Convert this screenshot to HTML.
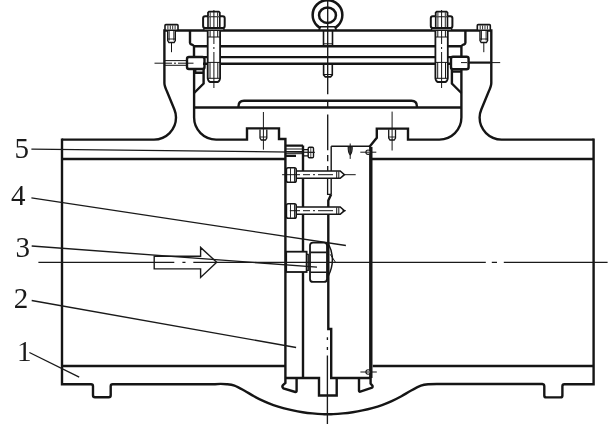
<!DOCTYPE html>
<html><head><meta charset="utf-8">
<style>
html,body{margin:0;padding:0;background:#fff;}
body{width:616px;height:428px;overflow:hidden;}
svg{display:block;}
text{font-family:"Liberation Serif",serif;font-size:29px;fill:#1a1a1a;}
.lbl{will-change:transform;}
</style></head>
<body>
<svg width="616" height="428" viewBox="0 0 616 428">
<g fill="none" stroke="#151515" stroke-width="2.4" stroke-linejoin="miter" stroke-linecap="butt">

<!-- ===== BODY ===== -->
<!-- left outer + bottom -->
<path d="M62,138.4 V384.3 H91 Q93,384.3 93,386.3 V395.2 Q93,397.2 95,397.2 H108.7 Q110.7,397.2 110.7,395.2 V386.3 Q110.7,384.3 112.7,384.3 H215 C216.9,384.0 223.4,383.9 226.7,384.2 C229.9,384.5 231.6,384.6 234.5,385.6 C237.4,386.7 240.9,388.7 244.2,390.5 C247.4,392.3 250.8,394.5 254.0,396.3 C257.2,398.1 260.5,399.7 263.7,401.2 C266.9,402.7 270.1,404.0 273.4,405.1 C276.6,406.2 279.9,407.2 283.2,408.1 C286.4,409.0 289.6,409.7 292.9,410.4 C296.1,411.1 299.4,411.7 302.7,412.2 C305.9,412.7 309.2,413.1 312.4,413.4 C315.6,413.7 319.6,414.0 322.1,414.1 C324.7,414.2 325.8,414.3 327.7,414.3 C329.6,414.3 330.7,414.2 333.3,414.1 C335.8,414.0 339.8,413.7 343.0,413.4 C346.2,413.1 349.4,412.7 352.7,412.2 C355.9,411.7 359.2,411.1 362.5,410.4 C365.8,409.7 368.9,409.0 372.2,408.1 C375.4,407.2 378.8,406.2 382.0,405.1 C385.2,404.0 388.5,402.7 391.7,401.2 C394.9,399.7 398.1,398.1 401.4,396.3 C404.6,394.5 407.9,392.3 411.2,390.5 C414.4,388.7 418.0,386.7 420.9,385.6 C423.8,384.6 425.4,384.5 428.7,384.2 C431.9,383.9 438.4,384.0 440.4,384.0 H542.3 Q544.3,384.3 544.3,386.3 V395.4 Q544.3,397.4 546.3,397.4 H560.4 Q562.4,397.4 562.4,395.4 V386.3 Q562.4,384.3 564.4,384.3 H593.6 V138.4"/>
<!-- body top left with fillet into bonnet wall -->
<path d="M62,139.6 H154 A22,22 0 0 0 176,117.5 Q176,113.5 174.4,109.5 L167,91.5 Q164.4,86 164.4,83 V30.5 H491.3 V83 Q491.3,86 488.7,91.5 L481.3,109.5 Q479.6,113.5 479.6,117.5 A22,22 0 0 0 501.6,139.6 H593.6"/>
<!-- inner body lines -->
<path d="M62,159 H285.4 M372,159 H593.5 M62,366 H285.4 M372.7,366 H593.5"/>

<!-- ===== BONNET INNER CAVITY ===== -->
<path d="M194.1,69 V117.6 A22,22 0 0 0 216.1,139.6 H247 V128.4 H279 V139 H285.4 V378"/>
<path d="M461.4,69 V117.6 A22,22 0 0 1 439.4,139.6 H408 V128.6 H376.8 V137.8 L369.3,146.9"/>
<!-- cover lines -->
<path d="M194,46.2 H461.4 M203,57.1 H451 M203,63.7 H451"/>
<!-- bonnet bottom line & plate -->
<path d="M194.3,107.5 H461"/>
<path d="M238.5,107.5 V106.3 Q238.5,100.8 244,100.8 H411.4 Q416.9,100.8 416.9,106.3 V107.5"/>

<!-- left flange inner step -->
<path d="M190,30.5 V42.7 Q190,44 191.5,44.5 L192.8,45 Q194,45.6 194,47 V57"/>
<path d="M465.4,30.5 V42.7 Q465.4,44 463.9,44.5 L462.6,45 Q461.4,45.6 461.4,47 V56.8"/>

<!-- left plug / pin nut -->
<rect x="187" y="57" width="17.5" height="12" rx="2"/>
<path d="M195.2,69 V72.7 H203.6 V69 M203.6,72.7 V83.5 L194.1,93" />
<rect x="451" y="56.8" width="17.6" height="12.4" rx="2"/>
<path d="M451.9,69.4 V83.5 L461.4,93 M451.9,71.6 H461.4"/>

<!-- ===== DISC / HINGE ===== -->
<path d="M303,145.6 V171 M303,178 V207 M303,214.4 V378"/>
<path d="M285.4,145.6 H303 M285.4,155.9 H296"/>
<path d="M285.4,378 H319 V395.5 H336.7 V378 M330,378 H370.7"/>
<!-- bottom tabs -->
<path d="M285.4,378 V383 L283,385 Q281.6,386.8 283.4,388.4 L295.3,392 Q296.6,392.2 296.6,391 V378"/>
<path d="M359,378 V390.8 Q359,392 360.3,391.6 L371.4,388 Q373.2,387.2 372.4,385.6 L370.6,383.5 V378"/>
<!-- disc arm & face -->
<path d="M331.2,146.3 V194.3" stroke-width="1.4"/>
<path d="M331.2,146.3 H369.3" stroke-width="1.4"/>
<path d="M331.2,194.3 L328.3,200.6 V329 H331.2 V378" />
<path d="M327.6,178.9 V194.3 H331.2" stroke-width="1.3"/>
<!-- thick right seat -->
<path d="M370.8,146.9 V378" stroke-width="3.4"/>


<!-- ===== BONNET DETAILS ===== -->
<defs>
<g id="bolt">
  <!-- shank -->
  <path d="M-6.2,30 V78.3 Q-5.6,81.6 -3.8,82 H3.8 Q5.6,81.6 6.2,78.3 V30 Z" fill="#fff" stroke-width="1.8"/>
  <path d="M-3.8,30.5 V37 M3.8,30.5 V37 M-6.2,37 H6.2 M-6.2,62.4 H6.2 M-3.9,62.4 V78.3 M3.9,62.4 V78.3 M-6.2,78.3 H6.2" stroke-width="1"/>
  <!-- washer -->
  <rect x="-10" y="28.1" width="20" height="2" fill="#fff" stroke-width="1.3"/>
  <!-- nut -->
  <rect x="-10.8" y="16.2" width="21.6" height="11.9" rx="2" fill="#fff" stroke-width="2"/>
  <path d="M-5.9,16.8 V27.6 M5.9,16.8 V27.6" stroke-width="1.6"/>
  <path d="M-3.7,17 V27.4 M3.7,17 V27.4" stroke-width="0.9"/>
  <!-- bolt end -->
  <path d="M-5.9,16.2 V12.6 L-4.9,11.6 H4.9 L5.9,12.6 V16.2" fill="#fff" stroke-width="1.8"/>
  <path d="M-3.7,12.2 V16 M3.7,12.2 V16" stroke-width="0.9"/>
  <path d="M0,10 V29 M0,31 V44 M0,47 V49 M0,52 V88" stroke-width="1"/>
</g>
<g id="screw">
  <path d="M-3.8,30.3 V40.5 L-2.6,42.5 H2.6 L3.8,40.5 V30.3" fill="#fff" stroke-width="1.4"/>
  <path d="M-2.3,30.5 V40.5 M2.3,30.5 V40.5 M-3.8,39 H3.8" stroke-width="0.9"/>
  <rect x="-6.5" y="24.6" width="13" height="5.6" rx="0.8" fill="#fff" stroke-width="1.6"/>
  <path d="M-3.6,25.5 V29.4 M-1.2,25.5 V29.4 M1.2,25.5 V29.4 M3.6,25.5 V29.4" stroke-width="0.9"/>
  <path d="M0,42 V52.2" stroke-width="1"/>
</g>
</defs>
<use href="#bolt" x="213.9"/>
<use href="#bolt" x="441.6"/>
<use href="#screw" x="171.5"/>
<use href="#screw" x="483.8"/>

<!-- eyebolt -->
<circle cx="327.5" cy="15" r="14.85" stroke-width="2.5"/>
<ellipse cx="327.5" cy="15.2" rx="8.45" ry="7.75" stroke-width="2.5" fill="#fff"/>
<path d="M319,30 L320.5,26.8 H334.8 L336.3,30 Z" fill="#fff" stroke-width="1.6"/>
<path d="M323.5,30.5 V45.8 M332.5,30.5 V45.8" stroke-width="1.6"/>
<path d="M323.5,43.8 H332.5" stroke-width="1"/>
<!-- lower stud -->
<path d="M323.6,64.5 V75 L325.3,76.9 H330.6 L332.3,75 V64.5" stroke-width="1.6"/>
<path d="M323.6,74.5 H332.3" stroke-width="1"/>

<!-- left pin through flange -->
<path d="M165,60.6 H187 M165,65.3 H187" stroke-width="1"/>
<path d="M154.5,63.2 H172 M174,63.2 H176 M178,63.2 H193.5" stroke-width="1"/>
<!-- right pin -->
<path d="M467.8,62.6 H490.4" stroke-width="2.2"/>
<path d="M461,62.6 H467 M490.4,62.6 H500.2" stroke-width="1"/>


<!-- boss screws -->
<g stroke-width="1.3">
<path d="M260,129.6 V138 L261.3,140 H265.5 L266.8,138 V129.6" />
<path d="M260,137 H266.8" stroke-width="0.9"/>
<path d="M263.4,112 V149.7" stroke-width="1"/>
<path d="M388.7,129.6 V138 L390,140 H394.2 L395.5,138 V129.6" />
<path d="M388.7,137 H395.5" stroke-width="0.9"/>
<path d="M392.1,111.6 V150.5" stroke-width="1"/>
<!-- small screw in disc top -->
<path d="M348.2,146.6 Q347.9,152.3 350.2,155 Q352.5,152.3 352.2,146.6 Z" fill="#555" stroke-width="1.1"/>
<path d="M350.2,143.5 V158.9" stroke-width="1"/>
</g>
<!-- crosshair circle -->
<circle cx="368.1" cy="152.2" r="2.2" stroke-width="1.1" fill="#fff"/>
<path d="M360.3,152.2 H376.3" stroke-width="1"/>
<circle cx="368.1" cy="372" r="2.2" stroke-width="1.1" fill="#fff"/>
<path d="M360.4,372 H376.8" stroke-width="1"/>

<!-- hinge pin -->
<path d="M285.4,149 H302 M285.4,151.5 H302 M285.4,153.7 H302" stroke-width="1"/>
<path d="M303,149.7 H308.2 M303,155.9 H308.2" stroke-width="1.2"/>
<rect x="308.2" y="147.2" width="5.3" height="10.6" rx="1.2" fill="#fff" stroke-width="1.4"/>
<path d="M310.8,147.5 V157.5" stroke-width="0.8"/>

<!-- horizontal bolts on disc arm -->
<g id="hbolt">
<path d="M296.5,171 H340.2 L344.4,174.7 L340.2,178.3 H296.5" fill="#fff" stroke-width="1.6"/>
<path d="M336.7,171.4 V178 M338.8,171.4 V178" stroke-width="1"/>
<rect x="286.4" y="167.7" width="9.8" height="14.6" rx="1.8" fill="#fff" stroke-width="1.6"/>
<path d="M290.5,168.2 V181.8 M294.5,168.2 V181.8" stroke-width="0.9"/>
</g>
<use href="#hbolt" transform="translate(0,36) scale(1,1)"/>
<path d="M282.1,174.7 H300 M303,174.7 H310 M313,174.7 H315 M318,174.7 H333 M344.4,174.7 H355.7" stroke-width="1"/>
<path d="M289.8,210.7 H300 M303,210.7 H310 M313,210.7 H315 M318,210.7 H333 M342.5,210.7 H345.8" stroke-width="1"/>

<!-- washer on disc centre -->
<rect x="286.2" y="251.7" width="20.4" height="20.3" fill="#fff" stroke-width="1.8"/>
<path d="M306.6,254.3 H308.3 V270.3 H306.6" stroke-width="1.2"/>
<!-- nut -->
<rect x="310" y="242.6" width="17" height="39.3" rx="3" fill="#fff" stroke-width="1.8"/>
<path d="M310.5,252.4 H326.5 M310.5,272.3 H326.5" stroke-width="1.6"/>
<!-- lens bulge -->
<path d="M328.3,243.5 Q336.5,259.5 328.3,276" stroke-width="1.5"/>
<path d="M330.2,254.3 L335.3,262" stroke-width="1"/>
</g>

<!-- thin lines -->
<g fill="none" stroke="#1a1a1a" stroke-width="1.35">
<!-- flow arrow -->
<path d="M154.2,256.2 H200.6 V247.4 L216.7,262.3 L200.6,277.4 V268.9 H154.2 Z" fill="#fff" stroke-width="1.4"/>
<!-- horizontal centreline -->
<path d="M38.4,262.3 H174.3 M182.4,262.3 H185.5 M193.3,262.3 H485.8 M491.8,262.3 H497 M503.8,262.3 H607.6"/>
<!-- vertical centreline -->
<path d="M327.7,0 V94.2 M327.7,100 V107.5 M327.7,114.5 V150.3 M327.7,155 V161.3 M327.7,166 V171 M327.4,337.3 V340 M327.4,347 V350 M327.4,355.5 V424"/>
<!-- leaders -->
<path d="M31.4,149.1 L314.8,152.3"/>
<path d="M31.4,197.8 L345.9,245.5"/>
<path d="M31.7,246 L317,267.2"/>
<path d="M31.7,300.5 L296.1,347.5"/>
<path d="M29.4,352.5 L79.2,377.1"/>
</g>

<g class="lbl"><text x="14.5" y="158">5</text>
<text x="11" y="205">4</text>
<text x="15.5" y="257">3</text>
<text x="13.8" y="308">2</text>
<text x="17" y="361">1</text></g>
</svg>
</body></html>
